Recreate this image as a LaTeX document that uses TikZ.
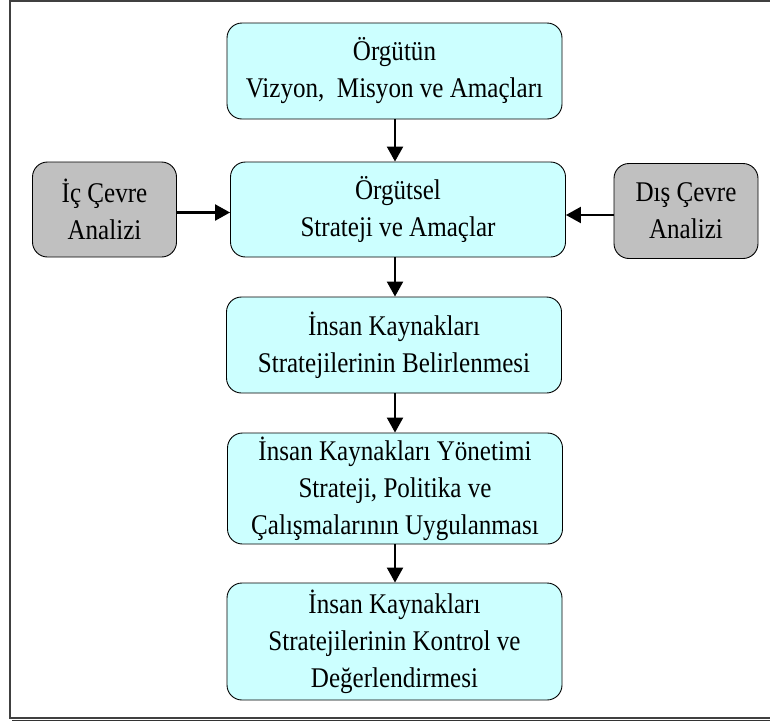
\documentclass[tikz,border=0pt]{standalone}
\usepackage{fontspec}
\setmainfont[FakeStretch=0.88]{Liberation Serif}
\usetikzlibrary{arrows.meta}
\definecolor{boxcyan}{HTML}{CCFFFF}
\definecolor{boxgray}{HTML}{C0C0C0}
\tikzset{
  base/.style={draw=black, line width=0.9pt, rounded corners=15pt, align=center,
    inner sep=0pt, font=\fontsize{28.5}{37}\selectfont},
  mainbox/.style={base, fill=boxcyan, minimum width=335pt},
  sidebox/.style={base, fill=boxgray, minimum width=144pt, minimum height=95pt},
  flow/.style={draw=black, line width=2.2pt, -{Triangle[length=15pt,width=16pt]}}
}
\begin{document}
\begin{tikzpicture}[x=1pt,y=-1pt]
\useasboundingbox (0,0) rectangle (770,721);
% page frame with a thin bottom shadow
\draw[black!75, line width=1.4pt] (10,1) rectangle (775,718);
\draw[black!80, line width=1pt] (12,720.5) -- (775,720.5);

% central column
\node[mainbox, minimum height=96pt]  (vision) at (394.5,71)  {Örgütün\\Vizyon,\ \ Misyon ve Amaçları};
\node[mainbox, minimum height=95pt]  (strat)  at (398,209.5) {Örgütsel\\Strateji ve Amaçlar};
\node[mainbox, minimum height=96pt]  (ikstr)  at (394,345)   {İnsan Kaynakları\\Stratejilerinin Belirlenmesi};
\node[mainbox, minimum height=111pt] (ikapp)  at (395,488.5) {İnsan Kaynakları Yönetimi\\Strateji, Politika ve\\Çalışmalarının Uygulanması};
\node[mainbox, minimum height=117pt] (ikctl)  at (394.5,641.5) {İnsan Kaynakları\\Stratejilerinin Kontrol ve\\Değerlendirmesi};

% environment analyses
\node[sidebox] (inner) at (104.5,209.5) {İç Çevre\\Analizi};
\node[sidebox] (outer) at (686,211)     {Dış Çevre\\Analizi};

% axis of the vertical connectors
\coordinate (ax) at (395,0);
% start points of the horizontal connectors
\coordinate (innerout) at ([yshift=-3pt]inner.east);
\coordinate (outerout) at ([yshift=-4pt]outer.west);

\draw[flow] (vision.south -| ax) -- (strat.north -| ax);
\draw[flow] (strat.south -| ax)  -- (ikstr.north -| ax);
\draw[flow] (ikstr.south -| ax)  -- (ikapp.north -| ax);
\draw[flow] (ikapp.south -| ax)  -- (ikctl.north -| ax);

\draw[flow] (innerout) -- (strat.west |- innerout);
\draw[flow] (outerout) -- (strat.east |- outerout);
\end{tikzpicture}
\end{document}
